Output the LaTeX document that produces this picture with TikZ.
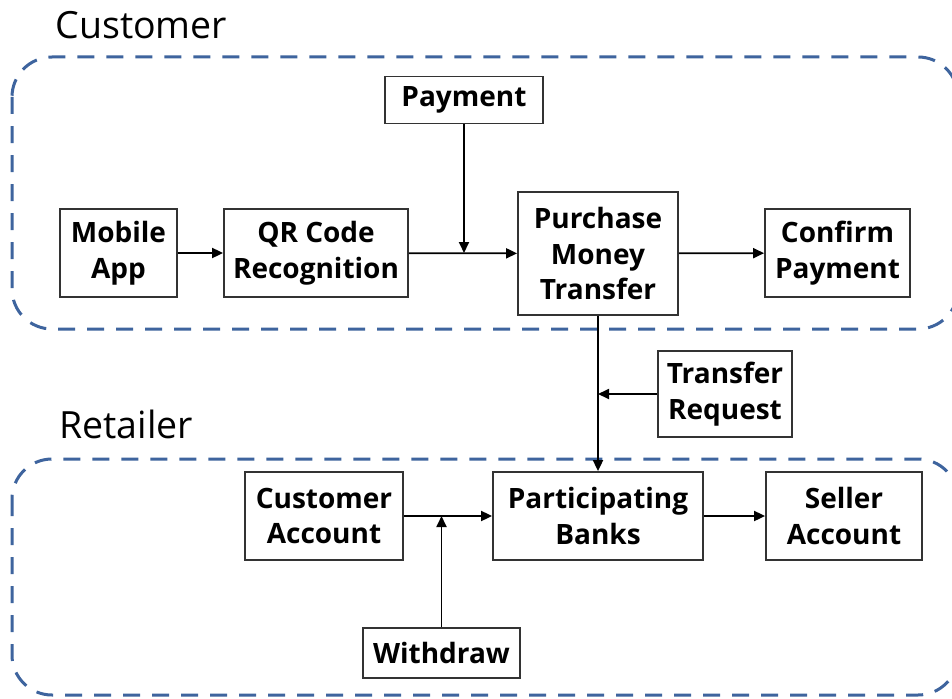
\documentclass[tikz,border=0pt]{standalone}
\usepackage{fontspec}
\setmainfont{Open Sans}
\usetikzlibrary{arrows.meta}
\definecolor{dashblue}{RGB}{62,100,158}
\begin{document}
\begin{tikzpicture}[x=1pt,y=-1pt,
  box/.style={draw=black!80,line width=1.8pt,fill=white,font=\fontsize{28}{35.5}\selectfont\bfseries,align=center,inner sep=0pt},
  group/.style={draw=dashblue,line width=3pt,dash pattern=on 17pt off 12pt,rounded corners=40pt},
  conn/.style={line width=1.8pt,-{Triangle[length=11pt,width=10pt]}},
  title/.style={font=\fontsize{37.5}{42}\selectfont,anchor=west}]
\useasboundingbox (0,0) rectangle (952,698);
\clip (0,0) rectangle (952,698);
\fill[white] (0,0) rectangle (952,698);
% groups
\draw[group] (12,57) rectangle (958,329);
\draw[group] (12,459) rectangle (958,695);
\node[title] (lcust) at (52,25) {Customer};
\node[title] (lret) at (56,424) {Retailer};
% boxes
\node[box,minimum width=158pt,minimum height=47pt] (pay) at (464,100) {Payment};
\node[box,minimum width=117pt,minimum height=88pt] (mob) at (118.5,253) {Mobile\\App};
\node[box,minimum width=184pt,minimum height=88pt] (qr) at (316,253) {QR Code\\Recognition};
\node[box,minimum width=160pt,minimum height=123pt] (pmt) at (598,253.5) {Purchase\\Money\\Transfer};
\node[box,minimum width=145pt,minimum height=88pt] (conf) at (837.5,253) {Confirm\\Payment};
\node[box,minimum width=134pt,minimum height=86pt] (treq) at (725,394) {Transfer\\Request};
\node[box,minimum width=158pt,minimum height=88pt] (cacc) at (324,516) {Customer\\Account};
\node[box,minimum width=210pt,minimum height=88pt] (bank) at (598,516) {Participating\\Banks};
\node[box,minimum width=156pt,minimum height=88pt] (sacc) at (844,516) {Seller\\Account};
\node[box,minimum width=157pt,minimum height=50pt] (wd) at (441.5,653) {Withdraw};
% junctions
\coordinate (j1) at (pay.south |- qr.east);
\coordinate (j2) at (pmt.south |- treq.west);
\coordinate (j3) at (wd.north |- cacc.east);
% connectors
\draw[conn] (mob) -- (qr);
\draw[conn] (qr) -- (pmt);
\draw[conn] (pay) -- (j1);
\draw[conn] (pmt) -- (conf);
\draw[conn] (pmt.south) -- (bank.north);
\draw[conn] (treq) -- (j2);
\draw[conn] (cacc) -- (bank);
\draw[conn] (wd) -- (j3);
\draw[conn] (bank) -- (sacc);
\end{tikzpicture}
\end{document}
